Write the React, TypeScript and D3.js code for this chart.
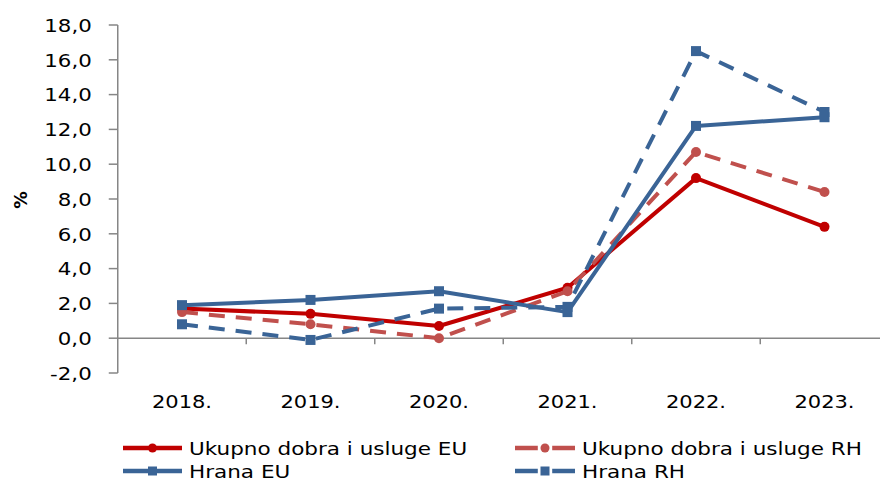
import React from "react";
import * as d3 from "d3";

const years = ["2018.", "2019.", "2020.", "2021.", "2022.", "2023."];
const ukupnoEU = [1.7, 1.4, 0.7, 2.9, 9.2, 6.4];
const ukupnoRH = [1.5, 0.8, 0.0, 2.7, 10.7, 8.4];
const hranaEU = [1.9, 2.2, 2.7, 1.5, 12.2, 12.7];
const hranaRH = [0.8, -0.1, 1.7, 1.8, 16.5, 13.0];
const yTicks = [-2, 0, 2, 4, 6, 8, 10, 12, 14, 16, 18];

const seriesNames = ["Ukupno dobra i usluge EU", "Ukupno dobra i usluge RH", "Hrana EU", "Hrana RH"];

const W = 880, H = 482;
const left = 117.75, band = 128.5;

const series = [
  { name: seriesNames[0], values: ukupnoEU, color: "#C00000", dash: null, marker: "circle" },
  { name: seriesNames[1], values: ukupnoRH, color: "#C0504D", dash: "16,11", marker: "circle" },
  { name: seriesNames[2], values: hranaEU, color: "#3A6496", dash: null, marker: "square" },
  { name: seriesNames[3], values: hranaRH, color: "#3A6496", dash: "16,11", marker: "square" },
];

export default function App() {
  const x = d3.scaleBand<string>().domain(years).range([left, left + band * years.length]).paddingInner(0).paddingOuter(0);
  const y = d3.scaleLinear().domain([-2, 18]).range([373, 25]);
  const cx = (d: string) => (x(d) as number) + x.bandwidth() / 2;
  const line = d3.line<number>().x((_, i) => cx(years[i])).y((v) => y(v));
  const font = "DejaVu Sans, Verdana, sans-serif";
  const grey = "#868686";

  const legendPos = [
    { lx: 123, ly: 448, tx: 189 },
    { lx: 515, ly: 448, tx: 582 },
    { lx: 123, ly: 471, tx: 189 },
    { lx: 515, ly: 471, tx: 582 },
  ];

  const marker = (s: any, px: number, py: number, size: number, key: string) =>
    s.marker === "circle" ? (
      <circle key={key} cx={px} cy={py} r={size / 2} fill={s.color} />
    ) : (
      <rect key={key} x={px - size / 2} y={py - size / 2} width={size} height={size} fill={s.color} />
    );

  const fmt = (t: number) => d3.format(".1f")(t).replace(".", ",").replace("\u2212", "-");

  return (
    <svg width={W} height={H} style={{ position: "absolute", left: 0, top: 0, background: "#fff" }}>
      {/* y axis */}
      <line x1={left} x2={left} y1={y(18)} y2={y(-2)} stroke={grey} strokeWidth={1.5} />
      {yTicks.map((t) => (
        <g key={t}>
          <line x1={left - 9} x2={left} y1={y(t)} y2={y(t)} stroke={grey} strokeWidth={1.5} />
          <text
            transform={`translate(${left - 26},${y(t) + 1}) scale(1.22,1)`}
            textAnchor="end"
            dominantBaseline="central"
            fontFamily={font}
            fontSize={17.5}
            fill="#000"
          >
            {fmt(t)}
          </text>
        </g>
      ))}
      {/* x axis at zero */}
      <line x1={left} x2={W} y1={y(0)} y2={y(0)} stroke={grey} strokeWidth={1.5} />
      {years.map((yr, i) =>
        i === 0 ? null : (
          <line key={yr} x1={x(yr) as number} x2={x(yr) as number} y1={y(0)} y2={y(0) + 6} stroke={grey} strokeWidth={1.5} />
        )
      )}
      {years.map((yr) => (
        <text
          key={yr}
          transform={`translate(${cx(yr)},${402}) scale(1.2,1)`}
          textAnchor="middle"
          dominantBaseline="central"
          fontFamily={font}
          fontSize={17.5}
          fill="#000"
        >
          {yr}
        </text>
      ))}
      <text
        transform={`translate(20.5,200) rotate(-90)`}
        textAnchor="middle"
        dominantBaseline="central"
        fontFamily={font}
        fontSize={17.5}
        fontWeight="bold"
      >
        %
      </text>
      {/* series */}
      {series.map((s, si) => (
        <g key={s.name}>
          <path d={line(s.values) || ""} fill="none" stroke={s.color} strokeWidth={4} strokeDasharray={s.dash || undefined} strokeLinejoin="round" />
          {s.values.map((v, i) => marker(s, cx(years[i]), y(v), 10, `${si}-${i}`))}
        </g>
      ))}
      {/* legend */}
      {series.map((s, i) => {
        const p = legendPos[i];
        const len = p.tx - p.lx - 7;
        return (
          <g key={"lg" + i}>
            {s.dash ? (
              <>
                <line x1={p.lx} x2={p.lx + len * 0.38} y1={p.ly} y2={p.ly} stroke={s.color} strokeWidth={4.5} />
                <line x1={p.lx + len * 0.62} x2={p.lx + len} y1={p.ly} y2={p.ly} stroke={s.color} strokeWidth={4.5} />
              </>
            ) : (
              <line x1={p.lx} x2={p.lx + len} y1={p.ly} y2={p.ly} stroke={s.color} strokeWidth={4.5} />
            )}
            {marker(s, p.lx + len / 2, p.ly, 9, "lm" + i)}
            <text
              transform={`translate(${p.tx},${p.ly + 1}) scale(1.23,1)`}
              dominantBaseline="central"
              fontFamily={font}
              fontSize={17.5}
              fill="#000"
            >
              {s.name}
            </text>
          </g>
        );
      })}
    </svg>
  );
}
